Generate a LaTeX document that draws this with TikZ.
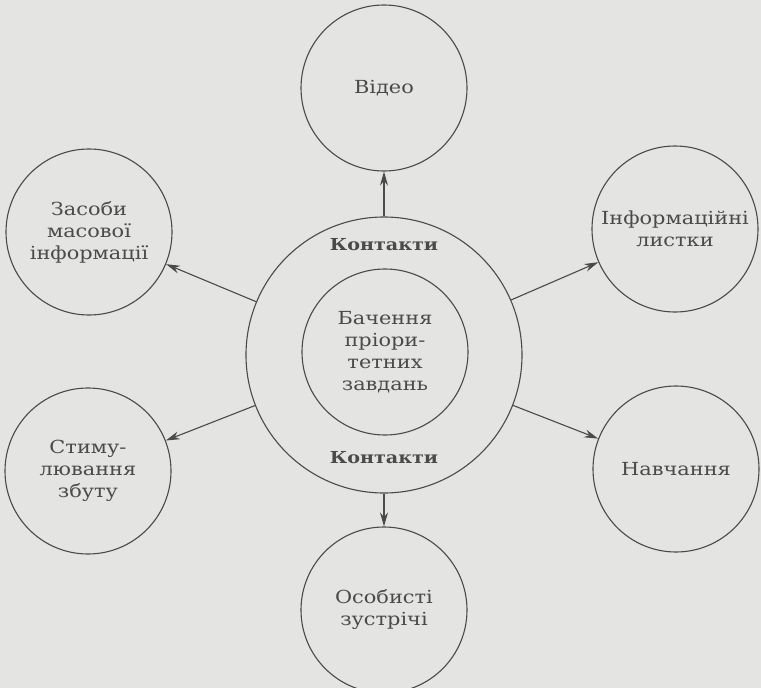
\documentclass[tikz,border=0pt]{standalone}
\usepackage{fontspec}
\setmainfont[FakeStretch=1.16]{DejaVu Serif}
\usetikzlibrary{arrows.meta}
\definecolor{bg}{HTML}{E4E4E2}
\definecolor{ink}{HTML}{4A4A4A}
\begin{document}
\begin{tikzpicture}[x=1pt,y=-1pt,
  circ/.style={circle,draw=ink,line width=1.1pt,inner sep=0pt,minimum size=166pt,align=center,text=ink,font=\fontsize{18}{22}\selectfont},
  lbl/.style={text=ink,font=\fontsize{16.5}{22}\selectfont\bfseries},
  arr/.style={draw=ink,line width=1.1pt,-{Stealth[length=14pt,width=8pt]}}]
\fill[bg] (0,0) rectangle (761,688);
\useasboundingbox (0,0) rectangle (761,688);
\node[circ,minimum size=276pt] (outer) at (384,355) {};
\node[circ] (inner) at (385,352) {Бачення\\пріори-\\тетних\\завдань};
\node[lbl] (k1) at (384,245) {Контакти};
\node[lbl] (k2) at (384,458) {Контакти};
\node[circ] (video) at (384,88) {Відео};
\node[circ] (media) at (89,232) {Засоби\\масової\\інформації};
\node[circ] (leaf) at (675,229) {Інформаційні\\листки};
\node[circ] (stim) at (88,471) {Стиму-\\лювання\\збуту};
\node[circ] (learn) at (676,469) {Навчання};
\node[circ] (meet) at (384,610) {Особисті\\зустрічі};
\draw[arr] (outer) -- (video);
\draw[arr] (outer) -- (media);
\draw[arr] (outer) -- (leaf);
\draw[arr] (outer) -- (stim);
\draw[arr] (outer) -- (learn);
\draw[arr] (outer) -- (meet);
\end{tikzpicture}
\end{document}
